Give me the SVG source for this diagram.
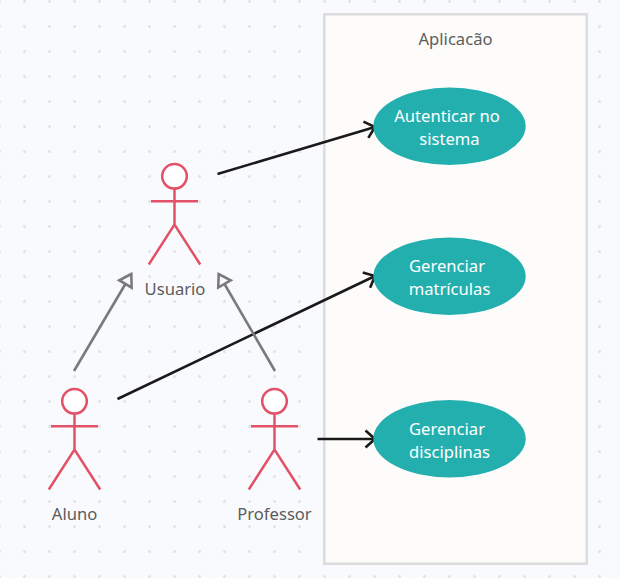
<svg xmlns="http://www.w3.org/2000/svg" width="620" height="578" viewBox="0 0 620 578">
<style>
text{font-family:"Noto Sans","Open Sans",sans-serif;font-size:16.6px;text-anchor:middle}
.dark{fill:#5c5c5c}
.light{fill:#ffffff}
.actor{fill:none;stroke:#e35168;stroke-width:2.5}
.head{fill:#ffffff;stroke:#e35168;stroke-width:2.5}
.uc{fill:#24afaf}
.assoc{fill:none;stroke:#1a1a1a;stroke-width:2.6;marker-end:url(#open)}
.gen{fill:none;stroke:#7a7a7a;stroke-width:2.6;marker-end:url(#tri)}
</style>
<defs>
<pattern id="dots" x="0" y="0" width="25" height="25" patternUnits="userSpaceOnUse"><circle cx="24.500" cy="1.500" r="1.500" fill="#e2e3e8"/><circle cx="-0.500" cy="1.500" r="1.500" fill="#e2e3e8"/></pattern>
<marker id="open" markerUnits="userSpaceOnUse" markerWidth="20" markerHeight="20" refX="13" refY="10" orient="auto" overflow="visible"><path d="M3.500 1.500L13 10L3.500 18.500" fill="none" stroke="#1a1a1a" stroke-width="2.600"/></marker>
<marker id="tri" markerUnits="userSpaceOnUse" markerWidth="20" markerHeight="20" refX="15" refY="10" orient="auto" overflow="visible"><path d="M15 10L3.500 2.800L3.500 17.200Z" fill="#fafafd" stroke="#7a7a7a" stroke-width="2.600"/></marker>
</defs>
<rect width="620" height="578" fill="#f9fafd"/>
<rect width="620" height="578" fill="url(#dots)"/>
<g id="system"><rect x="324.300" y="14.300" width="262.500" height="549.500" fill="#fdfcfb" stroke="#dcdcdc" stroke-width="2.500"/><text class="dark" x="455.500" y="44.500">Aplicacão</text></g>
<g id="connectors">
<path class="assoc" d="M217.500 174L375 127"/>
<path class="assoc" d="M117.500 399L375 276"/>
<path class="assoc" d="M317.500 439L375 439"/>
<path class="gen" d="M74 371L131.300 274"/>
<path class="gen" d="M275 371L218.700 274"/>
</g>
<g id="usuario"><circle class="head" cx="174.500" cy="176.300" r="12.300"/><path class="actor" d="M174.500 189V224.500M151 201.300H198M148.800 264.500L174.500 224.500L200.200 264.500"/><text class="dark" x="175" y="295">Usuario</text></g>
<g id="aluno"><circle class="head" cx="74.500" cy="401.300" r="12.300"/><path class="actor" d="M74.500 414V449.500M51 426.300H98M48.800 489.500L74.500 449.500L100.200 489.500"/><text class="dark" x="74.500" y="520">Aluno</text></g>
<g id="professor"><circle class="head" cx="274.500" cy="401.300" r="12.300"/><path class="actor" d="M274.500 414V449.500M251 426.300H298M248.800 489.500L274.500 449.500L300.200 489.500"/><text class="dark" x="274.500" y="520">Professor</text></g>
<g id="uc-autenticar"><ellipse class="uc" cx="449.500" cy="126.300" rx="76.200" ry="38.700"/><text class="light" x="447" y="122">Autenticar no</text><text class="light" x="449.500" y="145">sistema</text></g>
<g id="uc-matriculas"><ellipse class="uc" cx="449.500" cy="276.300" rx="76.200" ry="38.700"/><text class="light" x="447" y="272">Gerenciar</text><text class="light" x="449.500" y="295">matrículas</text></g>
<g id="uc-disciplinas"><ellipse class="uc" cx="449.500" cy="438.700" rx="76.200" ry="38.700"/><text class="light" x="447" y="435">Gerenciar</text><text class="light" x="449.500" y="458">disciplinas</text></g>
</svg>
